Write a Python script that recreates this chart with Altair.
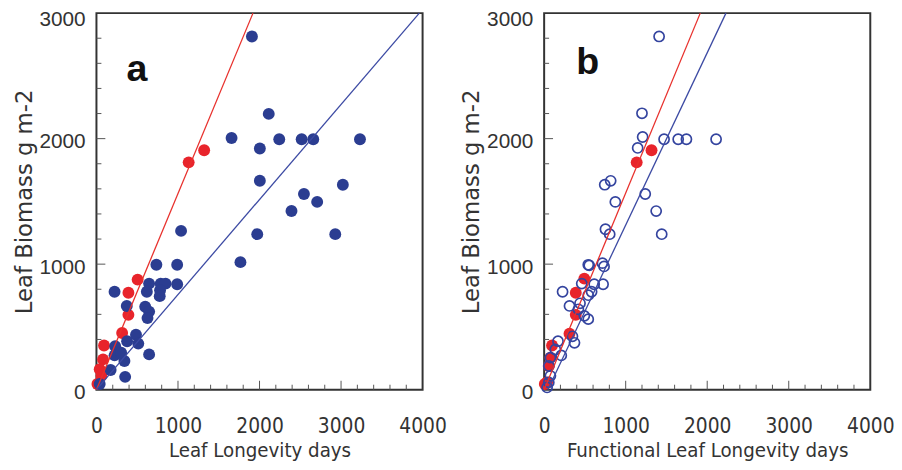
import altair as alt
import pandas as pd

# ---------------- data ----------------
# Panel a: leaf longevity (days) vs leaf biomass (g m-2)
a_blue_x = [1907, 2113, 1657, 2004, 2242, 2517, 2659, 3232, 2004, 3022, 2545, 2707, 2392,
            1038, 1972, 2929, 1766, 735, 990, 222, 646, 618, 788, 848, 780, 990, 776,
            372, 598, 646, 626, 485, 513, 376, 230, 222, 343, 646, 174, 352, 303, 40]
a_blue_y = [2814, 2197, 2005, 1921, 1995, 1995, 1995, 1995, 1664, 1633, 1559, 1496, 1423,
            1265, 1239, 1239, 1016, 995, 995, 780, 845, 780, 845, 845, 793, 840, 745,
            667, 661, 622, 570, 438, 367, 386, 346, 273, 228, 281, 157, 102, 294, 45]
a_red_x = [1321, 1131, 505, 392, 392, 315, 93, 81, 40, 12, 61]
a_red_y = [1908, 1811, 877, 772, 596, 451, 352, 241, 163, 45, 110]

# Panel b: functional leaf longevity (days) vs leaf biomass (g m-2)
b_blue_x = [1410, 1200, 1208, 1147, 1471, 1644, 1745, 2109, 743, 816, 873, 1240, 1374,
            752, 804, 1442, 541, 553, 715, 735, 226, 461, 614, 723, 582, 541,
            311, 420, 493, 541, 440, 347, 372, 170, 137, 210, 77, 57, 77, 57, 36]
b_blue_y = [2814, 2202, 2013, 1926, 1995, 1995, 1995, 1995, 1633, 1664, 1496, 1559, 1423,
            1278, 1239, 1239, 995, 990, 1008, 982, 780, 845, 840, 840, 780, 753,
            667, 640, 588, 562, 688, 425, 373, 386, 320, 273, 255, 189, 110, 58, 18]
b_red_x = [1317, 1135, 493, 388, 388, 311, 97, 77, 57, 36, 8]
b_red_y = [1908, 1811, 885, 772, 596, 446, 352, 255, 189, 58, 45]

# fitted lines (end points)
a_red_line_x = [0, 1920]
a_red_line_y = [0, 3000]
a_blue_line_x = [0, 3960]
a_blue_line_y = [0, 3000]
b_red_line_x = [0, 1915]
b_red_line_y = [0, 3000]
b_blue_line_x = [45, 2230]
b_blue_line_y = [0, 3000]

# axes
x_label_values = [0, 1000, 2000, 3000, 4000]
y_label_values = [0, 1000, 2000, 3000]
x_major_ticks = [1000, 2000, 3000]
x_minor_ticks = [v for v in range(200, 4000, 200) if v % 1000 != 0]
y_major_ticks = [1000, 2000]
y_minor_ticks = [v for v in range(200, 3000, 200) if v % 1000 != 0]

y_title = "Leaf Biomass g m-2"
a_x_title = "Leaf Longevity days"
b_x_title = "Functional Leaf Longevity days"

# ---------------- styling ----------------
NARROW = "DejaVu Sans Condensed, Liberation Sans, sans-serif"
SANS = "Liberation Sans, Arial, sans-serif"
W, H = 330, 381
XS = alt.Scale(domain=[0, 4000], nice=False, zero=True)
YS = alt.Scale(domain=[0, 3000], nice=False, zero=True)

RED = "#e8242b"
BLUE = "#2b3d91"
BLUE_OPEN = "#34449f"
RED_LINE = "#e8302c"
BLUE_LINE = "#3c4aa3"
TICK = "#555555"


def panel(blue_x, blue_y, red_x, red_y, rlx, rly, blx, bly, xtitle, letter,
          lx, ly, open_blue):
    ax = alt.Axis(title=xtitle, values=x_label_values, format="d")
    ay = alt.Axis(
        title=y_title, values=y_label_values, format="d",
        labelOffset={"condition": {"test": "datum.value >= 3000", "value": 7},
                     "value": 3},
    )

    def X():
        return alt.X("x:Q", scale=XS, axis=ax)

    def Y():
        return alt.Y("y:Q", scale=YS, axis=ay)

    layers = []
    layers.append(alt.Chart(pd.DataFrame({"x": x_minor_ticks})).mark_rule(
        color=TICK, strokeWidth=1).encode(x=X(), y=alt.value(H), y2=alt.value(H - 5)))
    layers.append(alt.Chart(pd.DataFrame({"x": x_major_ticks})).mark_rule(
        color=TICK, strokeWidth=1).encode(x=X(), y=alt.value(H), y2=alt.value(H - 9)))
    layers.append(alt.Chart(pd.DataFrame({"y": y_minor_ticks})).mark_rule(
        color=TICK, strokeWidth=1).encode(y=Y(), x=alt.value(0), x2=alt.value(5)))
    layers.append(alt.Chart(pd.DataFrame({"y": y_major_ticks})).mark_rule(
        color=TICK, strokeWidth=1).encode(y=Y(), x=alt.value(0), x2=alt.value(9)))

    red_df = pd.DataFrame({"x": red_x, "y": red_y})
    blue_df = pd.DataFrame({"x": blue_x, "y": blue_y})
    layers.append(alt.Chart(red_df).mark_circle(size=145, color=RED, opacity=1).encode(
        x=X(), y=Y()))
    if open_blue:
        layers.append(alt.Chart(blue_df).mark_point(
            shape="circle", filled=False, size=105, color=BLUE_OPEN, strokeWidth=1.7,
            opacity=1).encode(x=X(), y=Y()))
    else:
        layers.append(alt.Chart(blue_df).mark_circle(size=145, color=BLUE, opacity=1).encode(
            x=X(), y=Y()))

    layers.append(alt.Chart(pd.DataFrame({"x": rlx, "y": rly})).mark_line(
        color=RED_LINE, strokeWidth=1.3).encode(x=X(), y=Y()))
    layers.append(alt.Chart(pd.DataFrame({"x": blx, "y": bly})).mark_line(
        color=BLUE_LINE, strokeWidth=1.3).encode(x=X(), y=Y()))

    layers.append(alt.Chart(pd.DataFrame({"t": [letter]})).mark_text(
        font=SANS, fontSize=38, fontWeight="bold", color="#111", align="center",
        baseline="alphabetic").encode(text="t:N", x=alt.value(lx), y=alt.value(ly)))

    return alt.layer(*layers).properties(width=W, height=H)


pa = panel(a_blue_x, a_blue_y, a_red_x, a_red_y, a_red_line_x, a_red_line_y,
           a_blue_line_x, a_blue_line_y, a_x_title, "a", 41, 69, False)
pb = panel(b_blue_x, b_blue_y, b_red_x, b_red_y, b_red_line_x, b_red_line_y,
           b_blue_line_x, b_blue_line_y, b_x_title, "b", 44, 62, True)

chart = alt.hconcat(pa, pb, spacing=123, bounds="flush").properties(
    padding={"left": 3.5, "top": -2.5, "right": -2, "bottom": -4}
).configure_axis(
    domain=False, grid=False, ticks=False, tickSize=0, labelColor="#333",
    titleColor="#333", titleFontWeight="normal", labelFlush=False, labelOverlap=False
).configure_axisX(
    labelFont=NARROW, labelFontSize=21, labelPadding=26, titleFont=NARROW,
    titleFontSize=20.5, titlePadding=5
).configure_axisY(
    labelFont=SANS, labelFontSize=21, labelPadding=11.5,
    titleFont="DejaVu Sans", titleFontSize=23, titlePadding=3
).configure_view(stroke="#333", strokeWidth=2)

chart.save("out.html", embed_options={"renderer": "svg", "actions": False})
